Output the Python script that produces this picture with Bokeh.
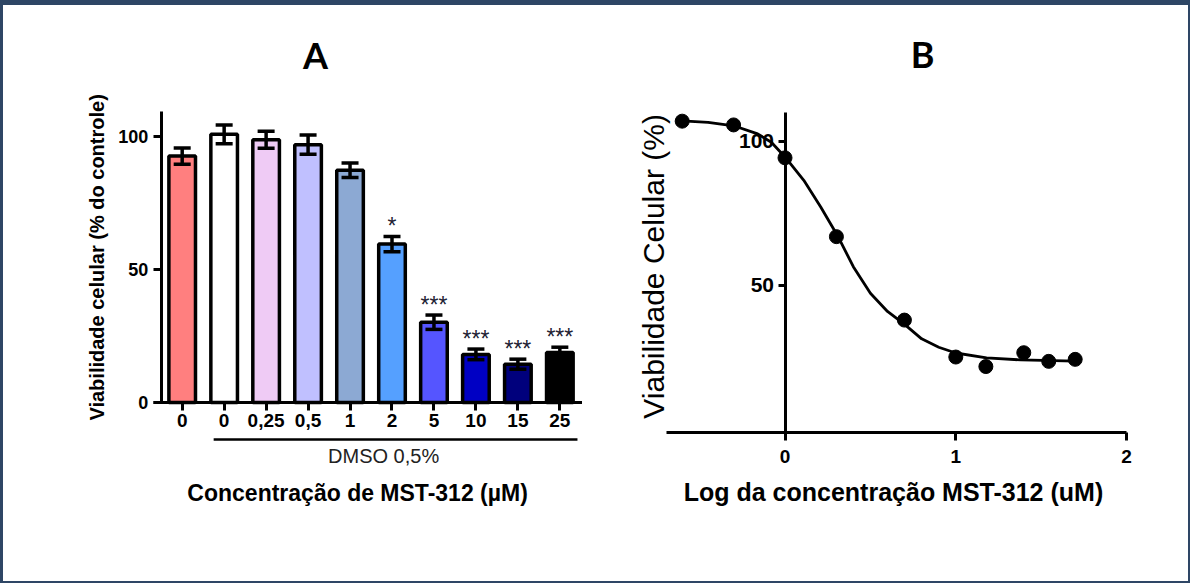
from math import pi
from bokeh.plotting import figure
from bokeh.models import ColumnDataSource, FixedTicker, Whisker, TeeHead, Range1d
from bokeh.layouts import row
from bokeh.core.properties import value
from bokeh.embed import file_html
from bokeh.resources import INLINE

# ---------------- Panel A data ----------------
conc_labels = ["0", "0", "0,25", "0,5", "1", "2", "5", "10", "15", "25"]
viability_mean = [92.7, 100.9, 98.9, 97.0, 87.4, 59.6, 30.2, 18.1, 14.4, 18.8]
viability_sem = [3.1, 3.5, 3.2, 3.6, 2.7, 2.9, 2.7, 2.0, 1.9, 2.0]
significance = ["", "", "", "", "", "*", "***", "***", "***", "***"]
bar_colors = ["#FF7F7F", "#FFFFFF", "#EFCBF5", "#C0C0FF", "#8CA9D3",
              "#55A0FF", "#5555FF", "#0000C4", "#00007C", "#000000"]
y_ticks_a = [0, 50, 100]

# ---------------- Panel B data ----------------
log_conc = [-0.602, -0.301, 0.0, 0.301, 0.699, 1.0, 1.176, 1.398, 1.544, 1.699]
viability_b = [106.9, 105.6, 94.2, 66.9, 38.0, 25.2, 21.9, 26.7, 23.7, 24.4]
fit_x = [-0.602, -0.45, -0.30, -0.16, -0.08, 0.0, 0.11, 0.21, 0.27, 0.31,
         0.40, 0.50, 0.60, 0.70, 0.80, 0.90, 1.0, 1.18, 1.38, 1.70]
fit_y = [107.0, 106.5, 105.3, 102.5, 99.6, 94.5, 86.4, 77.1, 71.0, 67.0,
         56.5, 47.3, 41.0, 36.5, 31.5, 28.6, 26.6, 24.9, 24.2, 23.8]
x_ticks_b = [0, 1, 2]
y_ticks_b = [50, 100]

FONT = "Liberation Sans"


def style_axis(ax):
    ax.axis_line_width = 3
    ax.major_tick_line_width = 3
    ax.major_tick_in = 0
    ax.major_tick_out = 8
    ax.minor_tick_line_color = None
    ax.major_label_text_font = FONT
    ax.major_label_text_font_style = "bold"
    ax.major_label_text_color = "black"
    ax.axis_label = None


# =============== Panel A =================
positions = list(range(len(conc_labels)))
srcA = ColumnDataSource(dict(
    x=positions, top=viability_mean, color=bar_colors, sig=significance,
    upper=[m + s for m, s in zip(viability_mean, viability_sem)],
    lower=[m - s for m, s in zip(viability_mean, viability_sem)],
))

pA = figure(width=579, height=576, x_range=Range1d(-2.638, 9.540), y_range=Range1d(-49.3, 142.6),
            output_backend="svg", toolbar_location=None,
            min_border_left=68, min_border_right=0, min_border_top=18, min_border_bottom=48)
pA.grid.visible = False
pA.outline_line_color = None

pA.vbar(x="x", top="top", bottom=0, width=0.634, fill_color="color", line_color="black",
        line_width=3.5, source=srcA)
wA = Whisker(base="x", upper="upper", lower="lower", source=srcA, line_width=3.5, line_color="black",
             upper_head=TeeHead(size=17, line_width=3.5, line_color="black"),
             lower_head=TeeHead(size=17, line_width=3.5, line_color="black"), level="overlay")
pA.add_layout(wA)
pA.text(x="x", y="upper", text="sig", source=srcA, text_align="center", text_baseline="alphabetic",
        text_font=value(FONT), text_font_size="23px", text_color="#222233", y_offset=-10)

style_axis(pA.xaxis[0])
style_axis(pA.yaxis[0])

xa = pA.xaxis[0]
xa.ticker = FixedTicker(ticks=positions)
xa.major_label_overrides = {i: lab for i, lab in zip(positions, conc_labels)}
xa.major_label_text_font_size = "19px"
xa.major_label_standoff = 4
xa.fixed_location = 0
xa.bounds = (-0.684, 9.54)

ya = pA.yaxis[0]
ya.ticker = FixedTicker(ticks=y_ticks_a)
ya.major_label_text_font_size = "18px"
ya.major_label_standoff = 5
ya.fixed_location = -0.5
ya.bounds = (0, 109.3)

# DMSO bracket and texts
pA.segment(x0=[positions[1] - 0.25], y0=[-13.9], x1=[positions[-1] + 0.42], y1=[-13.9],
           line_color="black", line_width=2.5)
pA.text(x=[4.80], y=[-20.3], text=["DMSO 0,5%"], text_align="center", text_baseline="middle",
        text_font=value(FONT), text_font_size="20px", text_color="#222222")
pA.text(x=[4.18], y=[-34.2], text=["Concentração de MST-312 (µM)"], text_align="center",
        text_baseline="middle", text_font=value(FONT), text_font_style="bold", text_font_size="23px",
        text_color="black")
pA.text(x=[-2.02], y=[54.6], text=["Viabilidade celular (% do controle)"], angle=pi / 2,
        text_align="center", text_baseline="middle", text_font=value(FONT), text_font_style="bold",
        text_font_size="20px", text_color="black")
pA.text(x=[3.177], y=[130.6], text=["A"], text_align="center", text_baseline="middle",
        text_font=value("Lato"), text_font_style="bold", text_font_size="36px", text_color="black")

# =============== Panel B =================
pB = figure(width=606, height=576, x_range=Range1d(-0.8812, 2.2863), y_range=Range1d(-35.92, 140.73),
            output_backend="svg", toolbar_location=None,
            min_border_left=52, min_border_right=13, min_border_top=18, min_border_bottom=48)
pB.grid.visible = False
pB.outline_line_color = None

pB.line(fit_x, fit_y, line_color="black", line_width=2.8, line_join="round")
pB.scatter(log_conc, viability_b, size=14, marker="circle", fill_color="black", line_color="black")

style_axis(pB.xaxis[0])
style_axis(pB.yaxis[0])

xb = pB.xaxis[0]
xb.ticker = FixedTicker(ticks=x_ticks_b)
xb.major_label_text_font_size = "19px"
xb.major_label_standoff = 10
xb.fixed_location = -0.83
xb.bounds = (-0.695, 2.0)

yb = pB.yaxis[0]
yb.ticker = FixedTicker(ticks=y_ticks_b)
yb.major_label_text_font_size = "21px"
yb.major_label_standoff = 4
yb.major_tick_out = 7
yb.fixed_location = 0
yb.bounds = (-0.83, 109.8)

pB.text(x=[0.635], y=[-21.7], text=["Log da concentração MST-312 (uM)"], text_align="center",
        text_baseline="middle", text_font=value(FONT), text_font_style="bold", text_font_size="25px",
        text_color="black")
pB.text(x=[0.805], y=[130.3], text=["B"], text_align="center", text_baseline="middle",
        text_font=value("Lato"), text_font_style="bold", text_font_size="36px", text_color="black")
pB.text(x=[-0.770], y=[56.6], text=["Viabilidade Celular (%)"], angle=pi / 2,
        text_align="center", text_baseline="middle", text_font=value(FONT),
        text_font_size="30px", text_color="black")

layout = row(pA, pB, styles={"border-style": "solid", "border-color": "#2E4665",
                             "border-width": "5px 2px 2px 3px"})

open("out.html", "w").write(file_html(layout, INLINE))
